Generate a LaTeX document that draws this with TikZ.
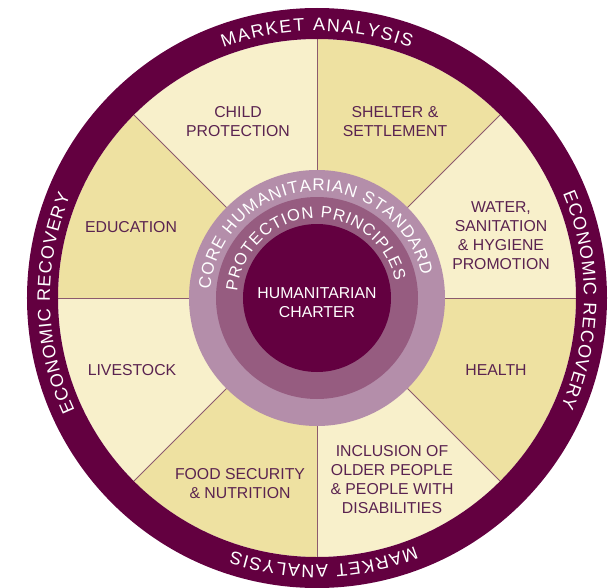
\documentclass[tikz,border=0pt]{standalone}
\usepackage{fontspec}
\setmainfont{Liberation Sans}
\usepackage{xcolor}
\usetikzlibrary{decorations.text}
\definecolor{plum}{HTML}{630040}
\definecolor{mauvelight}{HTML}{B48EAA}
\definecolor{mauvemid}{HTML}{965C80}
\definecolor{wheatlight}{HTML}{F8F0CB}
\definecolor{wheatdark}{HTML}{EEE1A1}
\definecolor{dividerline}{HTML}{8C5A6E}
\definecolor{sectorink}{HTML}{5A2350}

\begin{document}
\begin{tikzpicture}[
			     x=1pt, y=1pt,
			     light sector/.style={fill=wheatlight},
			     dark sector/.style={fill=wheatdark},
			     divider/.style={draw=dividerline, line width=0.9pt},
			     sector text/.style={text=sectorink, align=center, inner sep=0pt, font=\fontsize{15.8}{19}\selectfont},
			     ring text/.style={decorate, decoration={text along path, text align={fit to path}, text={#1}}}
			     ]
\useasboundingbox (-317,-289) rectangle (293,298);
%
\fill[light sector] (0,0) -- (0:259) arc[start angle=0, end angle=45, radius=259] -- cycle;
\fill[dark sector] (0,0) -- (45:259) arc[start angle=45, end angle=90, radius=259] -- cycle;
\fill[light sector] (0,0) -- (90:259) arc[start angle=90, end angle=135, radius=259] -- cycle;
\fill[dark sector] (0,0) -- (135:259) arc[start angle=135, end angle=180, radius=259] -- cycle;
\fill[light sector] (0,0) -- (180:259) arc[start angle=180, end angle=225, radius=259] -- cycle;
\fill[dark sector] (0,0) -- (225:259) arc[start angle=225, end angle=270, radius=259] -- cycle;
\fill[light sector] (0,0) -- (270:259) arc[start angle=270, end angle=315, radius=259] -- cycle;
\fill[dark sector] (0,0) -- (315:259) arc[start angle=315, end angle=360, radius=259] -- cycle;
%
\draw[divider] (0:120) -- (0:262);
\draw[divider] (45:120) -- (45:262);
\draw[divider] (90:120) -- (90:262);
\draw[divider] (135:120) -- (135:262);
\draw[divider] (180:120) -- (180:262);
\draw[divider] (225:120) -- (225:262);
\draw[divider] (270:120) -- (270:262);
\draw[divider] (315:120) -- (315:262);
%
\draw[plum, line width=31pt] (0,0) circle (274.5);
\fill[mauvelight] (0,0) circle (128);
\fill[mauvemid] (0,0) circle (101);
\fill[plum] (0,0) circle (74);
%
\node[sector text] (child) at (-79,176) {CHILD\\PROTECTION};
\node[sector text] (shelter) at (78,176) {SHELTER \&\\SETTLEMENT};
\node[sector text] (water) at (184,62) {WATER,\\SANITATION\\\& HYGIENE\\PROMOTION};
\node[sector text] (education) at (-186,71) {EDUCATION};
\node[sector text] (livestock) at (-185,-72) {LIVESTOCK};
\node[sector text] (health) at (179,-72) {HEALTH};
\node[sector text] (food) at (-77,-186) {FOOD SECURITY\\\& NUTRITION};
\node[sector text] (inclusion) at (75,-182) {INCLUSION OF\\OLDER PEOPLE\\\& PEOPLE WITH\\DISABILITIES};
\node[sector text, text=white] (charter) at (0,-5) {HUMANITARIAN\\CHARTER};
%
\path[ring text={|\fontsize{18}{18}\selectfont\color{white}|MARKET ANALYSIS}] (110.5:267) arc[start angle=110.5, end angle=69.5, radius=267];
\path[ring text={|\fontsize{18}{18}\selectfont\color{white}|ECONOMIC RECOVERY}] (23:267) arc[start angle=23, end angle=-24, radius=267];
\path[ring text={|\fontsize{18}{18}\selectfont\color{white}|MARKET ANALYSIS}] (291.5:267) arc[start angle=291.5, end angle=251.5, radius=267];
\path[ring text={|\fontsize{18}{18}\selectfont\color{white}|ECONOMIC RECOVERY}] (205:267) arc[start angle=205, end angle=157.5, radius=267];
\path[ring text={|\fontsize{17}{17}\selectfont\color{white}|CORE HUMANITARIAN STANDARD}] (175.5:107) arc[start angle=175.5, end angle=12, radius=107];
\path[ring text={|\fontsize{16.5}{16.5}\selectfont\color{white}|PROTECTION PRINCIPLES}] (175:80) arc[start angle=175, end angle=12, radius=80];
\end{tikzpicture}
\end{document}
